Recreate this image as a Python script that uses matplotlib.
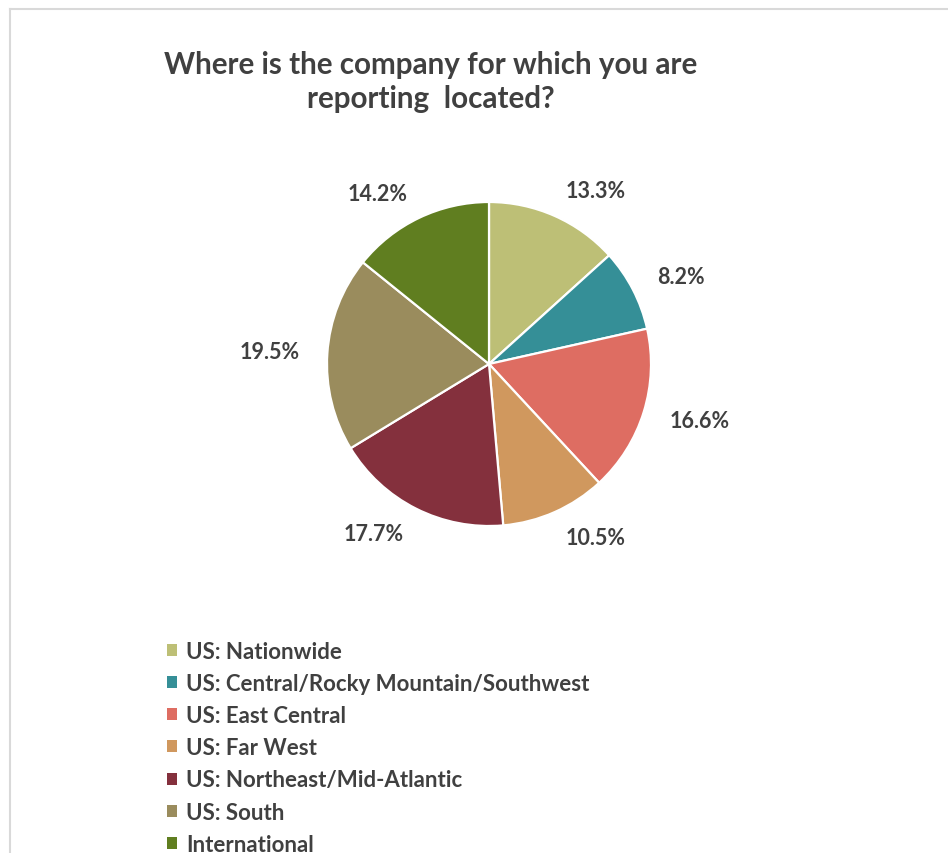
import matplotlib
matplotlib.use("Agg")
import matplotlib.pyplot as plt
from matplotlib.patches import Patch
from matplotlib.lines import Line2D

categories = [
    "US: Nationwide",
    "US: Central/Rocky Mountain/Southwest",
    "US: East Central",
    "US: Far West",
    "US: Northeast/Mid-Atlantic",
    "US: South",
    "International",
]
shares = [13.3, 8.2, 16.6, 10.5, 17.7, 19.5, 14.2]
colors = ["#BDBF76", "#358F97", "#DE6D62", "#D0985E", "#84303D", "#9A8C5D", "#607E20"]
title = "Where is the company for which you are\nreporting  located?"

TEXT = "#404040"
FONT = ["Lato", "DejaVu Sans"]

W, H = 948, 854
fig = plt.figure(figsize=(W / 100, H / 100), dpi=100)
fig.patch.set_facecolor("white")

# light frame along the top and left edges
fig.add_artist(Line2D([10 / W, 10 / W], [0, 1 - 10 / H], transform=fig.transFigure,
                      color="#d9d9d9", lw=1.5))
fig.add_artist(Line2D([10 / W, 1], [1 - 10 / H, 1 - 10 / H], transform=fig.transFigure,
                      color="#d9d9d9", lw=1.5))

cx, cy, r = 489, 365, 162
ax = fig.add_axes([(cx - r) / W, (H - cy - r) / H, 2 * r / W, 2 * r / H])
wedges, texts = ax.pie(
    shares, colors=colors, startangle=90, counterclock=False,
    labels=[f"{v:.1f}%" for v in shares], labeldistance=1.17,
    wedgeprops=dict(edgecolor="white", linewidth=1.6),
    textprops=dict(color=TEXT, fontsize=15.5, fontweight="bold", family=FONT),
)
ax.set_xlim(-1, 1)
ax.set_ylim(-1, 1)
ax.set_aspect("equal")
ax.axis("off")

fig.text(431 / W, 1 - 82 / H, title, ha="center", va="center", color=TEXT,
         fontsize=21.3, fontweight="bold", family=FONT, linespacing=1.3)

handles = [Patch(facecolor=c, edgecolor="none") for c in colors]
fig.legend(handles, categories, loc="upper left",
           bbox_to_anchor=(167 / W, 1 - 642 / H), frameon=False,
           borderpad=0, borderaxespad=0,
           handlelength=0.45, handleheight=0.45, handletextpad=0.4,
           labelspacing=0.5,
           prop=dict(family=FONT, weight="bold", size=16), labelcolor=TEXT)

fig.savefig("out.png", dpi=100, facecolor="white")
